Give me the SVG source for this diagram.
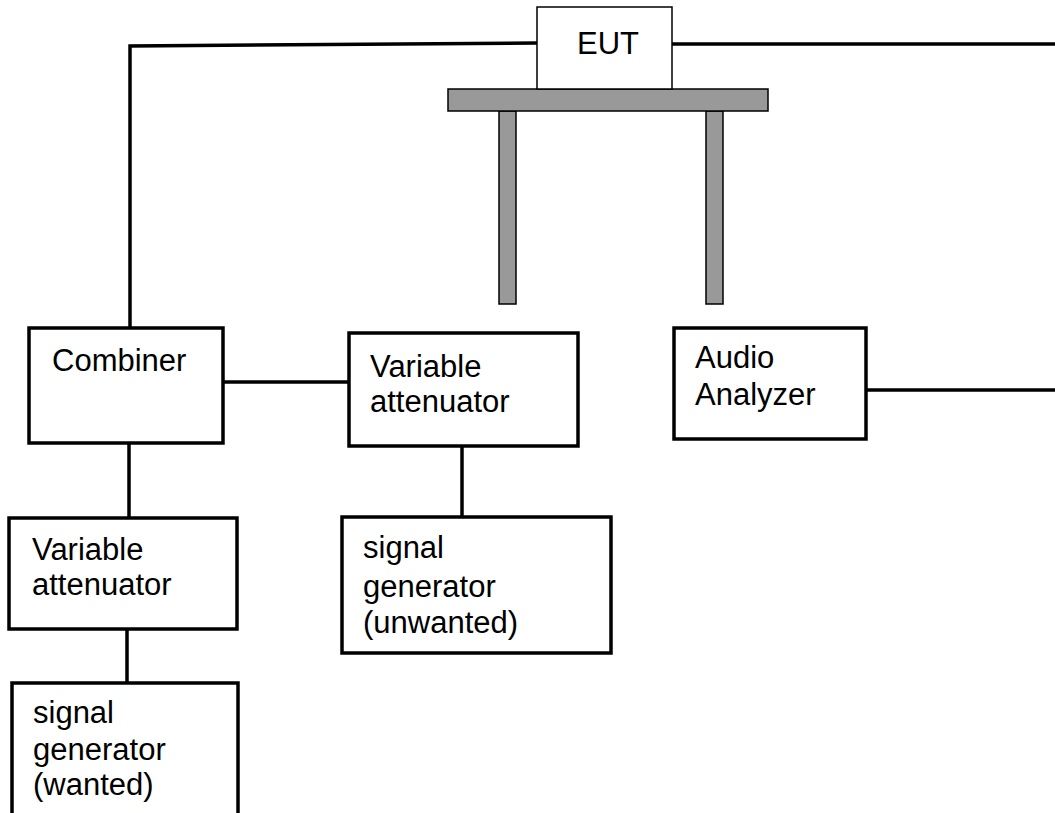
<svg xmlns="http://www.w3.org/2000/svg" width="1055" height="813" viewBox="0 0 1055 813">
<style>
.box{fill:#fff;stroke:#000;stroke-width:3.5}
.thin{fill:#fff;stroke:#000;stroke-width:1.5}
.grey{fill:#999;stroke:#000;stroke-width:1.5}
.wire{fill:none;stroke:#000;stroke-width:3.5}
text{font-family:"Liberation Sans",Arial,sans-serif;font-size:31px;fill:#000}
</style>
<rect width="1055" height="813" fill="#fff"/>
<g id="connectors">
<polyline class="wire" points="130,328 130,46 537,43"/>
<line class="wire" x1="672" y1="44" x2="1055" y2="44"/>
<line class="wire" x1="223" y1="382" x2="349" y2="382"/>
<line class="wire" x1="129" y1="443" x2="129" y2="518"/>
<line class="wire" x1="127" y1="629" x2="127" y2="683"/>
<line class="wire" x1="462" y1="446" x2="462" y2="517"/>
<line class="wire" x1="866" y1="390" x2="1055" y2="390"/>
</g>
<g id="table">
<rect class="grey" x="499" y="111" width="17" height="193"/>
<rect class="grey" x="706" y="111" width="17" height="193"/>
<rect class="grey" x="448" y="89" width="320" height="22"/>
</g>
<g id="eut">
<rect class="thin" x="537" y="7" width="135" height="82"/>
<text x="577" y="54">EUT</text>
</g>
<g id="combiner">
<rect class="box" x="29" y="328" width="194" height="115"/>
<text x="52" y="371">Combiner</text>
</g>
<g id="att-wanted">
<rect class="box" x="9" y="518" width="228" height="111"/>
<text x="32" y="560">Variable</text>
<text x="32" y="595">attenuator</text>
</g>
<g id="gen-wanted">
<rect class="box" x="12" y="683" width="226" height="140"/>
<text x="33" y="723">signal</text>
<text x="33" y="760">generator</text>
<text x="33" y="795">(wanted)</text>
</g>
<g id="att-unwanted">
<rect class="box" x="349" y="333" width="229" height="113"/>
<text x="370" y="377">Variable</text>
<text x="370" y="412">attenuator</text>
</g>
<g id="gen-unwanted">
<rect class="box" x="342" y="517" width="269" height="136"/>
<text x="363" y="558">signal</text>
<text x="363" y="597">generator</text>
<text x="363" y="633">(unwanted)</text>
</g>
<g id="audio-analyzer">
<rect class="box" x="674" y="328" width="192" height="111"/>
<text x="695" y="368">Audio</text>
<text x="695" y="405">Analyzer</text>
</g>
</svg>
